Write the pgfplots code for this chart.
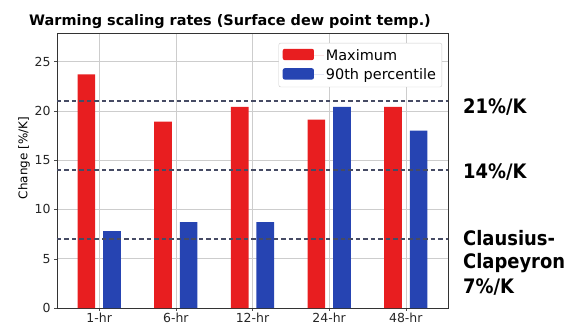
\documentclass[border=0pt]{standalone}
\usepackage{pgfplots}
\pgfplotsset{compat=1.18}
\usepackage{fontspec}
\setmainfont{DejaVu Sans}
\newfontfamily\sidefont{DejaVu Sans Condensed}
\definecolor{barred}{RGB}{232,30,32}
\definecolor{barblue}{RGB}{38,68,178}
\definecolor{refline}{RGB}{70,75,100}
\definecolor{gridgray}{RGB}{205,205,205}

\pgfplotstableread{
x  maxv  p90
0  23.7  7.8
1  18.9  8.7
2  20.4  8.7
3  19.1  20.4
4  20.4  18.0
}\ratetable

\begin{document}
\begin{tikzpicture}
\path[use as bounding box] (-57bp,-21bp) rectangle (519bp,308bp);
\begin{axis}[
  scale only axis,
  clip=false,
  width=391bp, height=275bp,
  xmin=-0.55, xmax=4.55,
  ymin=0, ymax=27.9,
  xtick={0,1,2,3,4},
  xticklabels={1-hr,6-hr,12-hr,24-hr,48-hr},
  ytick={0,5,10,15,20,25},
  /pgf/number format/assume math mode=true,
  tick label style={font=\fontsize{12.5}{14}\selectfont, text=black!85},
  xticklabel style={yshift=1pt},
  ylabel={Change [\%/K]},
  ylabel style={font=\fontsize{12}{14}\selectfont, yshift=-2pt, at={(ticklabel cs:0.545)}},
  grid=major,
  major grid style={gridgray, line width=0.6pt},
  axis line style={black!80, line width=0.8pt},
  tick style={black!70},
  major tick length=3pt,
  tick align=outside,
  xtick pos=bottom, ytick pos=left,
  title={\bfseries Warming scaling rates (Surface dew point temp.)},
  title style={font=\fontsize{14.5}{17}\selectfont, anchor=south west, at={(rel axis cs:-0.08,1)}, yshift=-5pt},
  legend style={at={(0.985,0.964)}, anchor=north east, draw=black!20, rounded corners=2pt,
    font=\fontsize{14.5}{16}\selectfont, row sep=3pt, inner xsep=4pt, inner ysep=4pt},
  legend cell align=left,
  legend image code/.code={\fill[#1] (0cm,-0.17cm) rectangle (1.1cm,0.23cm); \path (1.1cm,0) -- (1.1cm+10bp,0);},
]
\addplot[ybar, bar width=0.23, bar shift=-0.167, fill=barred, draw=none] table[x=x, y=maxv] {\ratetable};
\addlegendentry{Maximum}
\addplot[ybar, bar width=0.23, bar shift=0.167, fill=barblue, draw=none] table[x=x, y=p90] {\ratetable};
\addlegendentry{90th percentile}
\addplot[refline, line width=1.1pt, dash pattern=on 4.5pt off 3pt, forget plot] coordinates {(-0.55,21) (4.55,21)};
\addplot[refline, line width=1.1pt, dash pattern=on 4.5pt off 3pt, forget plot] coordinates {(-0.55,14) (4.55,14)};
\addplot[refline, line width=1.1pt, dash pattern=on 4.5pt off 3pt, forget plot] coordinates {(-0.55,7) (4.55,7)};
\node[anchor=base west, font=\sidefont\bfseries\fontsize{20}{24}\selectfont, inner sep=0pt] at (axis cs:4.55,19.78) [xshift=15bp] {21\%/K};
\node[anchor=base west, font=\sidefont\bfseries\fontsize{20}{24}\selectfont, inner sep=0pt] at (axis cs:4.55,13.09) [xshift=15bp] {14\%/K};
\node[anchor=base west, font=\sidefont\bfseries\fontsize{20}{24}\selectfont, inner sep=0pt] at (axis cs:4.55,6.39) [xshift=15bp] {Clausius-};
\node[anchor=base west, font=\sidefont\bfseries\fontsize{20}{24}\selectfont, inner sep=0pt] at (axis cs:4.55,3.96) [xshift=15bp] {Clapeyron};
\node[anchor=base west, font=\sidefont\bfseries\fontsize{20}{24}\selectfont, inner sep=0pt] at (axis cs:4.55,1.52) [xshift=15bp] {7\%/K};
\end{axis}
\end{tikzpicture}
\end{document}
